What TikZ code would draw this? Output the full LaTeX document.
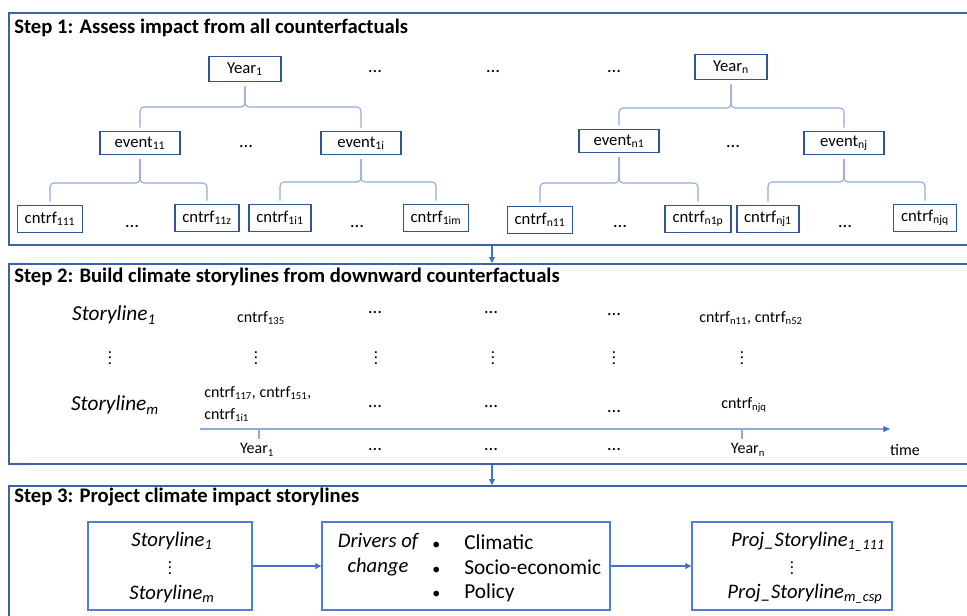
\documentclass[tikz,border=0pt]{standalone}
\usepackage{fontspec}
\setmainfont{Carlito}
\usetikzlibrary{arrows.meta}
\definecolor{panelblue}{HTML}{3A62A6}
\definecolor{boxblue}{HTML}{2F5597}
\definecolor{lightblue}{HTML}{4F7FD4}
\definecolor{braceblue}{HTML}{8FAADC}
\definecolor{arrowblue}{HTML}{4472C4}
\newcommand\vdts{\vbox{\baselineskip=3.9pt\lineskiplimit=0pt\hbox{.}\hbox{.}\hbox{.}}}
\begin{document}
\begin{tikzpicture}[x=0.75pt,y=-0.75pt,
  panel/.style={draw=panelblue,line width=1.5pt,anchor=north west,inner sep=0pt},
  ttl/.style={anchor=west,inner sep=0pt,font=\fontsize{15.5}{18}\selectfont\bfseries},
  yrbox/.style={draw=boxblue,line width=1.1pt,minimum width=54pt,minimum height=19pt,inner sep=1pt,font=\fontsize{12.5}{14}\selectfont},
  evbox/.style={yrbox,minimum width=60pt,minimum height=17pt},
  cfbox/.style={yrbox,minimum width=0pt,minimum height=20pt,inner xsep=5.5pt},
  brc/.style={draw=braceblue,line width=0.8pt,rounded corners=3pt,shorten <=2.5pt,shorten >=3pt},
  dd/.style={inner sep=0pt,font=\fontsize{14}{16}\selectfont},
  vd/.style={inner sep=0pt,font=\fontsize{12.5}{14}\selectfont},
  txt/.style={inner sep=0pt,font=\fontsize{12}{16.5}\selectfont},
  sty/.style={inner sep=0pt,font=\fontsize{16}{18.75}\selectfont\itshape},
  sty3/.style={inner sep=0pt,font=\fontsize{15.5}{18.75}\selectfont\itshape},
  big/.style={inner sep=0pt,font=\fontsize{16}{18.75}\selectfont},
  bigbox/.style={draw=lightblue,line width=1.1pt,minimum height=66pt,inner sep=0pt},
  arr/.style={draw=arrowblue,line width=0.9pt,-{Triangle[length=4.5pt,width=4.5pt]}},
  axis/.style={draw=braceblue,line width=0.9pt}]
\useasboundingbox (0,0) rectangle (967,615);
\clip (0,0) rectangle (967,615);

% panels
\node[panel,minimum width=735pt,minimum height=174pt] (p1) at (8,12) {};
\node[panel,minimum width=735pt,minimum height=150pt] (p2) at (8,263) {};
\node[panel,minimum width=735pt,minimum height=112pt] (p3) at (8,485) {};
\draw[arr] (p1.south -| 492,0) -- (p2.north -| 492,0);
\draw[arr] (p2.south -| 492,0) -- (p3.north -| 492,0);

% step 1
\node[ttl] (t1) at (14,28) {Step 1: Assess impact from all counterfactuals};
\node[yrbox] (yr1) at (245,69) {Year\textsubscript{1}};
\node[yrbox] (yrn) at (731,67) {Year\textsubscript{n}};
\node[evbox] (e11) at (140,143) {event\textsubscript{11}};
\node[evbox] (e1i) at (361,143) {event\textsubscript{1i}};
\node[evbox] (en1) at (619,141) {event\textsubscript{n1}};
\node[evbox] (enj) at (844,143) {event\textsubscript{nj}};
\node[cfbox] (c111) at (50,219) {cntrf\textsubscript{111}};
\node[cfbox] (c11z) at (207,218) {cntrf\textsubscript{11z}};
\node[cfbox] (c1i1) at (280,218) {cntrf\textsubscript{1i1}};
\node[cfbox] (c1im) at (436,218) {cntrf\textsubscript{1im}};
\node[cfbox] (cn11) at (540,220) {cntrf\textsubscript{n11}};
\node[cfbox] (cn1p) at (698,219) {cntrf\textsubscript{n1p}};
\node[cfbox] (cnj1) at (768,219) {cntrf\textsubscript{nj1}};
\node[cfbox] (cnjq) at (925,218) {cntrf\textsubscript{njq}};
\foreach \p/\a/\b/\y in {yr1/e11/e1i/107,yrn/en1/enj/108,e11/c111/c11z/183,
  e1i/c1i1/c1im/182,en1/cn11/cn1p/183,enj/cnj1/cnjq/182} {
  \draw[brc] (\a.north) |- (\p.south |- 0,\y) -- (\p.south);
  \draw[brc] (\b.north) |- (\p.south |- 0,\y) -- (\p.south);
}
\foreach \x/\y [count=\i] in {375/72,493/72,614/72,246/147,733/147,
  132/227,357/227,620/227,845/227}
  \node[dd] (da\i) at (\x,\y) {\dots};

% step 2
\node[ttl] (t2) at (14,277) {Step 2: Build climate storylines from downward counterfactuals};
\node[sty] (s1) at (114,315) {Storyline\textsubscript{1}};
\node[sty] (sm) at (115,405) {Storyline\textsubscript{m}};
\node[txt] (k135) at (261,318) {cntrf\textsubscript{135}};
\node[txt] (kn11) at (751,318) {cntrf\textsubscript{n11}, cntrf\textsubscript{n52}};
\node[txt,anchor=west,align=left] (k117) at (204,404) {cntrf\textsubscript{117}, cntrf\textsubscript{151},\\cntrf\textsubscript{1i1}};
\node[txt] (knjq) at (744,405) {cntrf\textsubscript{njq}};
\foreach \x/\y [count=\i] in {375/313,491/313,614/315,375/407,491/407,614/412,
  375/450,491/450,614/450}
  \node[dd] (db\i) at (\x,\y) {\dots};
\foreach \x [count=\i] in {110,256,376,493,614,742}
  \node[vd] (dv\i) at (\x,358) {\vdts};
\coordinate (ax0) at (200,429);
\coordinate (ax1) at (890,429);
\draw[axis,-{Triangle[length=5pt,width=4.5pt,color=arrowblue]}] (ax0) -- (ax1);
\node[txt] (ly1) at (257,450) {Year\textsubscript{1}};
\node[txt] (lyn) at (748,450) {Year\textsubscript{n}};
\node[txt] (ltm) at (905,450) {time};
\draw[axis] (ax0 -| 259,0) -- ++(0,10);
\draw[axis] (ax0 -| 742,0) -- ++(0,10);

% step 3
\node[ttl] (t3) at (14,497) {Step 3: Project climate impact storylines};
\node[bigbox,minimum width=123pt] (ba) at (170,566) {};
\node[bigbox,minimum width=216pt] (bb) at (466,566) {};
\node[bigbox,minimum width=150pt] (bc) at (792,566) {};
\draw[arr] (ba) -- (bb);
\draw[arr] (bb) -- (bc);
\node[sty3] (a1) at (172,541) {Storyline\textsubscript{1}};
\node[vd] (av) at (170,568) {\vdts};
\node[sty3] (am) at (172,594) {Storyline\textsubscript{m}};
\node[sty3,align=center] (drv) at (378,555) {Drivers of\\change};
\foreach \t/\y [count=\i] in {Climatic/549,Socio-economic/574,Policy/598} {
  \node[big,anchor=base west,font=\fontsize{12}{14}\selectfont] (bu\i) at (432,\y) {\textbullet};
  \node[big,anchor=base west] (it\i) at (464,\y) {\t};
}
\node[sty3] (pj1) at (808,542) {Proj\_Storyline\textsubscript{1\_111}};
\node[vd] (pjv) at (792,568) {\vdts};
\node[sty3] (pjm) at (805,594) {Proj\_Storyline\textsubscript{m\_csp}};
\end{tikzpicture}
\end{document}
